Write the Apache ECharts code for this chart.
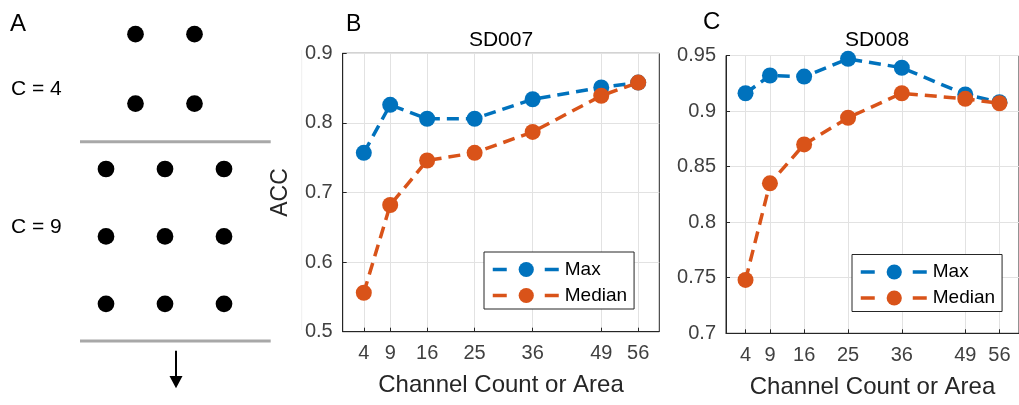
<!DOCTYPE html>
<html>
<head>
<meta charset="utf-8">
<script src="https://cdn.jsdelivr.net/npm/echarts@6/dist/echarts.min.js"></script>
<style>
html, body { margin: 0; padding: 0; background: #fff; }
#main { width: 1019px; height: 405px; }
</style>
</head>
<body>
<div id="main"></div>
<script>
// x values (channel count / area)
var channelCounts = [4, 9, 16, 25, 36, 49, 56];
// SD007
var sd007Max = [0.757, 0.826, 0.806, 0.806, 0.834, 0.851, 0.858];
var sd007Median = [0.556, 0.682, 0.746, 0.757, 0.787, 0.839, 0.858];
// SD008
var sd008Max = [0.916, 0.932, 0.931, 0.947, 0.939, 0.915, 0.908];
var sd008Median = [0.748, 0.835, 0.870, 0.894, 0.916, 0.911, 0.907];
// panel A electrode layout (column offset, row)
var c4Cols = [-0.5, 0.5];
var c4Rows = [0, 1.03];
var c9Cols = [-1, 0, 1];
var c9Rows = [2, 3, 4];

var BLUE = '#0072BD', ORANGE = '#D95319';
var FONT = '"Liberation Sans", Arial, sans-serif';

function pairs(xs, ys) {
    var out = [];
    for (var i = 0; i < xs.length; i++) out.push([xs[i], ys[i]]);
    return out;
}
function gridDots(cols, rows) {
    var out = [];
    for (var r = 0; r < rows.length; r++)
        for (var c = 0; c < cols.length; c++) out.push([cols[c], rows[r]]);
    return out;
}

function xAxisFor(idx) {
    return {
        gridIndex: idx, type: 'value', min: 0, max: 60,
        axisLine: {show: true, onZero: false, lineStyle: {color: '#262626', width: 1}},
        axisTick: {show: true, inside: true, length: 4, customValues: channelCounts, lineStyle: {color: '#262626'}},
        axisLabel: {customValues: channelCounts, fontSize: 20, color: '#404040', margin: 12, fontFamily: FONT},
        splitLine: {show: true, lineStyle: {color: '#e2e2e2', width: 1}},
        name: 'Channel Count or Area', nameLocation: 'middle', nameGap: 42,
        nameTextStyle: {fontSize: 24, color: '#262626', fontFamily: FONT}
    };
}
function yAxisFor(idx, min, max, interval, name) {
    return {
        gridIndex: idx, type: 'value', min: min, max: max, interval: interval,
        axisLine: {show: true, lineStyle: {color: '#262626', width: 1}},
        axisTick: {show: true, inside: true, length: 4, lineStyle: {color: '#262626'}},
        axisLabel: {fontSize: 20, color: '#404040', margin: 10, fontFamily: FONT},
        splitLine: {show: true, lineStyle: {color: '#e2e2e2', width: 1}},
        name: name, nameLocation: 'middle', nameGap: 51,
        nameTextStyle: {fontSize: 23, color: '#262626', fontFamily: FONT}
    };
}
function lineSeries(name, color, xIdx, values, z) {
    return {
        name: name, type: 'line', xAxisIndex: xIdx, yAxisIndex: xIdx,
        data: pairs(channelCounts, values),
        symbol: 'circle', symbolSize: 16, z: z,
        lineStyle: {color: color, width: 3.5, type: [12, 7]},
        itemStyle: {color: color},
        animation: false
    };
}
function legendAt(left, top) {
    return {
        data: ['Max', 'Median'], orient: 'vertical', left: left, top: top,
        padding: [8, 7, 4, 7], itemWidth: 67, itemHeight: 19, itemGap: 7,
        borderColor: '#262626', borderWidth: 1, backgroundColor: '#fff',
        textStyle: {fontSize: 19, color: '#000', fontFamily: FONT},
        lineStyle: {type: [14, 38], width: 3.5},
        selectedMode: false
    };
}

var ech = echarts.init(document.getElementById('main'));
var option = {
    animation: false,
    textStyle: {fontFamily: FONT},
    grid: [
        {left: 76.5, top: 0.45, width: 177, height: 406.2},
        {left: 342.7, top: 53.3, width: 316.6, height: 278.4, show: true, borderColor: '#262626', borderWidth: 1},
        {left: 726, top: 55.5, width: 302.4, height: 277.8, show: true, borderColor: '#262626', borderWidth: 1}
    ],
    xAxis: [
        {gridIndex: 0, type: 'value', min: -1.5, max: 1.5, show: false},
        xAxisFor(1),
        xAxisFor(2)
    ],
    yAxis: [
        {gridIndex: 0, type: 'value', min: -0.5, max: 5.5, inverse: true, show: false},
        yAxisFor(1, 0.5, 0.9, 0.1, 'ACC'),
        yAxisFor(2, 0.7, 0.95, 0.05, '')
    ],
    legend: [legendAt(484, 252), legendAt(852, 254.5)],
    series: [
        {
            type: 'scatter', xAxisIndex: 0, yAxisIndex: 0, symbolSize: 16.7,
            itemStyle: {color: '#000', opacity: 1},
            data: gridDots(c4Cols, c4Rows).concat(gridDots(c9Cols, c9Rows))
        },
        lineSeries('Max', BLUE, 1, sd007Max, 3),
        lineSeries('Median', ORANGE, 1, sd007Median, 4),
        lineSeries('Max', BLUE, 2, sd008Max, 3),
        lineSeries('Median', ORANGE, 2, sd008Median, 4)
    ],
    graphic: [
        {type: 'text', x: 10, y: 12, style: {text: 'A', font: '24px ' + FONT, fill: '#000'}},
        {type: 'text', x: 346, y: 13, style: {text: 'B', font: '23px ' + FONT, fill: '#000'}},
        {type: 'text', x: 703, y: 10, style: {text: 'C', font: '24px ' + FONT, fill: '#000'}},
        {type: 'text', x: 501, y: 30, style: {text: 'SD007', align: 'center', font: '21px ' + FONT, fill: '#000'}},
        {type: 'text', x: 877, y: 30, style: {text: 'SD008', align: 'center', font: '21px ' + FONT, fill: '#000'}},
        {type: 'text', x: 11, y: 79, style: {text: 'C = 4', font: '21px ' + FONT, fill: '#000'}},
        {type: 'text', x: 11, y: 217, style: {text: 'C = 9', font: '21px ' + FONT, fill: '#000'}},
        {type: 'line', shape: {x1: 80, y1: 141.7, x2: 270.7, y2: 141.7}, style: {stroke: '#a8a8a8', lineWidth: 3}},
        {type: 'line', shape: {x1: 80, y1: 341, x2: 270.7, y2: 341}, style: {stroke: '#a8a8a8', lineWidth: 3}},
        {type: 'line', shape: {x1: 301.7, y1: 50, x2: 301.7, y2: 330}, style: {stroke: '#efefef', lineWidth: 1}},
        {type: 'line', shape: {x1: 176, y1: 350.7, x2: 176, y2: 380}, style: {stroke: '#000', lineWidth: 2}},
        {type: 'polygon', shape: {points: [[169.5, 376], [182.5, 376], [176, 388.3]]}, style: {fill: '#000'}}
    ]
};
ech.setOption(option);
</script>
</body>
</html>
